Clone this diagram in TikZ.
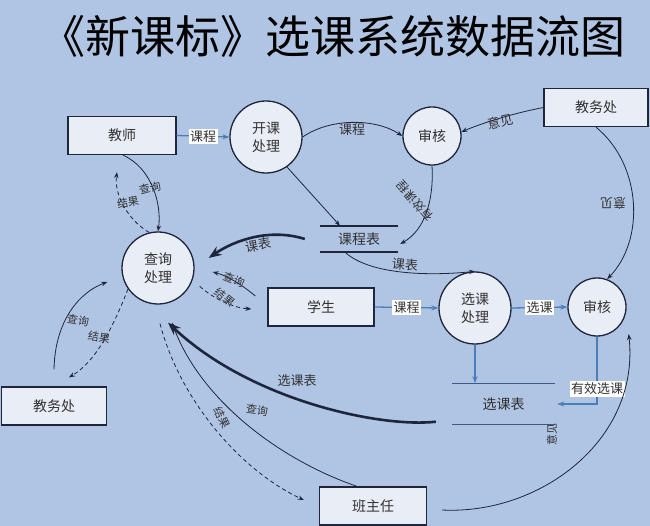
\documentclass[tikz,border=0pt]{standalone}
\usepackage{fontspec}
\setmainfont{Noto Sans CJK SC}
\usetikzlibrary{arrows.meta,calc}
\definecolor{bg}{RGB}{176,197,228}
\definecolor{boxfill}{RGB}{233,237,246}
\definecolor{ln}{RGB}{30,38,60}
\definecolor{bl}{RGB}{74,126,187}
\definecolor{tx}{RGB}{50,50,50}
\definecolor{stl}{RGB}{60,90,140}
\begin{document}
\begin{tikzpicture}[x=1pt,y=-1pt,
  box/.style={draw=ln,line width=1.3pt,fill=boxfill,minimum width=#1,minimum height=38pt,inner sep=0pt,font=\fontsize{14}{16}\selectfont,text=tx},
  proc/.style={circle,draw=ln,line width=1.3pt,fill=boxfill,minimum size=#1,inner sep=0pt,font=\fontsize{14}{18}\selectfont,text=tx,align=center},
  store/.style={minimum width=#1,inner sep=0pt,font=\fontsize{14}{16}\selectfont,text=tx},
  flow/.style={draw=ln,line width=0.8pt,-{Stealth[length=6pt,width=4.5pt]}},
  dflow/.style={flow,dash pattern=on 4pt off 3pt},
  bflow/.style={draw=ln,line width=2.6pt,-{Stealth[length=13pt,width=10pt]}},
  blflow/.style={draw=bl,line width=1.3pt,-{Stealth[length=7pt,width=5pt]}},
  lab/.style={font=\fontsize{13}{15}\selectfont,text=tx,inner sep=1pt},
  slab/.style={font=\fontsize{11}{13}\selectfont,text=tx,inner sep=0.5pt},
  wlab/.style={lab,fill=white,inner sep=1.5pt}]
\path[use as bounding box,fill=bg] (0,0) rectangle (650,526);

% title
\node[font=\fontsize{45}{50}\selectfont,text=black] (title) at (333,36) {《新课标》选课系统数据流图};

% external entities
\node[box=108pt] (teacher) at (122,135.5) {教师};
\node[box=104pt] (jwcT) at (596,107.5) {教务处};
\node[box=106pt] (student) at (321,307) {学生};
\node[box=105pt] (jwcL) at (54,406) {教务处};
\node[box=107pt] (bzr) at (373,506) {班主任};

% processes
\node[proc=72pt] (kk) at (266,137) {开课\\处理};
\node[proc=58pt] (sh1) at (432,136) {审核};
\node[proc=72pt] (cx) at (158,268) {查询\\处理};
\node[proc=72pt] (xk) at (475,308) {选课\\处理};
\node[proc=58pt] (sh2) at (597,307) {审核};

% data stores
\node[store=78pt,minimum height=26pt] (kcb) at (359,239) {课程表};
\draw[ln,line width=1.5pt] (kcb.north west) -- (kcb.north east) (kcb.south west) -- (kcb.south east);
\node[store=103pt,minimum height=41pt] (xks) at (503.5,404) {选课表};
\draw[stl,line width=1.5pt] (xks.north west) -- (xks.north east) (xks.south west) -- (xks.south east);

% flows
\draw[blflow] (teacher.east) -- node[wlab] {课程} (kk.west);
\draw[flow] (kk.east) .. controls (330,118) and (375,118) .. (sh1.west);
\node[lab] (l1) at (352,130) {课程};
\draw[flow] (jwcT.west) .. controls (515,113) and (485,122) .. (sh1.8);
\node[lab,rotate=12] (l2) at (500,122) {意见};
\draw[flow] (jwcT.south) .. controls (642,165) and (645,240) .. (sh2.70);
\node[lab,rotate=180] (l3) at (613,204) {意见};
\draw[flow] (kk.305) -- ([xshift=-19pt]kcb.north);
\draw[flow] (sh1.south) .. controls (434,200) and (425,230) .. ([shift={(2pt,-5pt)}]kcb.east);
\node[slab,font=\fontsize{12}{14}\selectfont,rotate=131] (l4) at (415,201) {有效课程};
\draw[flow] ([xshift=-14pt]kcb.south) .. controls (370,275) and (430,276) .. (xk.north);
\node[lab,rotate=-5] (l5) at (405,265) {课表};
\draw[bflow] ([xshift=-15pt]kcb.west) .. controls (270,228) and (235,240) .. ([shift={(14pt,10pt)}]cx.east);
\node[lab,rotate=10] (l6) at (258,245) {课表};

\draw[flow] ([xshift=1pt]teacher.south) .. controls (152,168) and (162,205) .. (cx.north);
\node[slab,rotate=15] (l7) at (150,188) {查询};
\draw[dflow] (cx.104) .. controls (128,220) and (114,195) .. ([shift={(-5pt,-17pt)}]teacher.south);
\node[slab,rotate=10] (l8) at (128,202) {结果};

\draw[flow] ([shift={(-12pt,11pt)}]student.west) .. controls (242,285) and (228,276) .. ([shift={(18pt,-4pt)}]cx.east);
\node[slab,rotate=-22] (l9) at (234,280) {查询};
\draw[dflow] ([xshift=10pt]cx.330) .. controls (215,300) and (235,308) .. ([shift={(-16pt,-2pt)}]student.west);
\node[slab,rotate=-40] (l10) at (225,297) {结果};

\draw[blflow] (student.east) -- node[wlab] {课程} (xk.west);
\draw[blflow] (xk.east) -- node[wlab] {选课} (sh2.west);
\draw[blflow] (xk.south) -- (xk.south |- xks.north);
\draw[blflow] (sh2.south) |- ([xshift=2pt]xks.east);
\node[wlab] (l11) at (597,389) {有效选课};

\draw[flow] ([yshift=17pt]jwcL.north) .. controls (55,320) and (80,292) .. ([shift={(-14pt,-14pt)}]cx.west);
\node[slab,rotate=-10] (l12) at (78,320) {查询};
\draw[dflow] (cx.215) .. controls (112,330) and (95,362) .. ([shift={(15pt,9pt)}]jwcL.north);
\node[slab,rotate=-10] (l13) at (99,337) {结果};

\draw[bflow] ([shift={(-16pt,3pt)}]xks.south west) .. controls (380,428) and (250,400) .. ([shift={(10pt,-18pt)}]cx.south);
\node[lab] (l14) at (297,381) {选课表};
\draw[flow] ([xshift=-16pt]bzr.north) .. controls (280,460) and (200,400) .. ([shift={(14pt,-18pt)}]cx.south);
\node[slab,rotate=-8] (l15) at (257,410) {查询};
\draw[dflow] ([shift={(2pt,-19pt)}]cx.south) .. controls (180,400) and (240,470) .. ([shift={(-15pt,6pt)}]bzr.west);
\node[slab,rotate=-65] (l16) at (222,418) {结果};

\draw[flow] ([shift={(15pt,-4pt)}]bzr.east) .. controls (540,515) and (640,440) .. ([shift={(9pt,-8pt)}]sh2.320);
\node[slab,rotate=90] (l17) at (552,434) {意见};
\end{tikzpicture}
\end{document}
